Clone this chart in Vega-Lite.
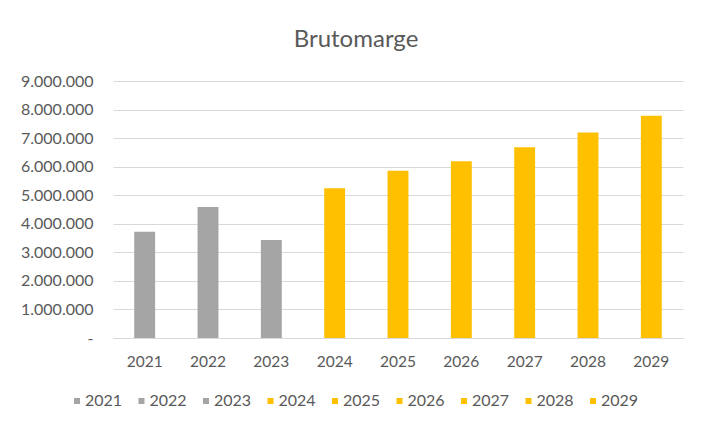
{
  "$schema": "https://vega.github.io/schema/vega-lite/v6.json",
  "width": 570,
  "height": 257,
  "autosize": {"type": "none"},
  "padding": {"left": 113, "top": 81, "right": 19, "bottom": 86},
  "background": "white",
  "title": {
    "text": "Brutomarge",
    "font": "Lato",
    "fontSize": 24,
    "fontWeight": "normal",
    "color": "#595959",
    "anchor": "middle",
    "dx": -42,
    "offset": 21
  },
  "data": {
    "values": [
      {"year": "2021", "value": 3720000},
      {"year": "2022", "value": 4590000},
      {"year": "2023", "value": 3430000},
      {"year": "2024", "value": 5240000},
      {"year": "2025", "value": 5860000},
      {"year": "2026", "value": 6190000},
      {"year": "2027", "value": 6680000},
      {"year": "2028", "value": 7200000},
      {"year": "2029", "value": 7780000}
    ]
  },
  "mark": {"type": "bar"},
  "encoding": {
    "x": {
      "field": "year",
      "type": "nominal",
      "scale": {"paddingInner": 0.67, "paddingOuter": 0.335},
      "axis": {
        "title": null,
        "labelAngle": 0,
        "ticks": false,
        "domain": true,
        "domainColor": "#d9d9d9",
        "domainWidth": 1,
        "labelFont": "Lato",
        "labelFontSize": 15.5,
        "labelColor": "#595959",
        "labelPadding": 16
      }
    },
    "y": {
      "field": "value",
      "type": "quantitative",
      "scale": {"domain": [0, 9000000]},
      "axis": {
        "title": null,
        "values": [0, 1000000, 2000000, 3000000, 4000000, 5000000, 6000000, 7000000, 8000000, 9000000],
        "format": ",.0f",
        "labelExpr": "datum.value == 0 ? '-\u00a0\u00a0\u00a0' : datum.label",
        "ticks": false,
        "domain": false,
        "grid": true,
        "gridColor": "#d9d9d9",
        "gridWidth": 1,
        "labelFont": "Lato",
        "labelFontSize": 16,
        "labelColor": "#595959",
        "labelPadding": 20
      }
    },
    "color": {
      "field": "year",
      "type": "nominal",
      "scale": {
        "domain": ["2021", "2022", "2023", "2024", "2025", "2026", "2027", "2028", "2029"],
        "range": ["#a5a5a5", "#a5a5a5", "#a5a5a5", "#ffc000", "#ffc000", "#ffc000", "#ffc000", "#ffc000", "#ffc000"]
      },
      "legend": {
        "title": null,
        "orient": "none",
        "legendX": -44,
        "legendY": 312,
        "direction": "horizontal",
        "columns": 9,
        "symbolType": "square",
        "symbolSize": 36,
        "symbolStrokeWidth": 0,
        "labelOffset": 0,
        "columnPadding": 10.5,
        "labelFont": "Lato",
        "labelFontSize": 16,
        "labelColor": "#595959"
      }
    }
  },
  "config": {
    "view": {"stroke": null},
    "locale": {
      "number": {"decimal": ",", "thousands": ".", "grouping": [3], "currency": ["€", ""]}
    }
  }
}
